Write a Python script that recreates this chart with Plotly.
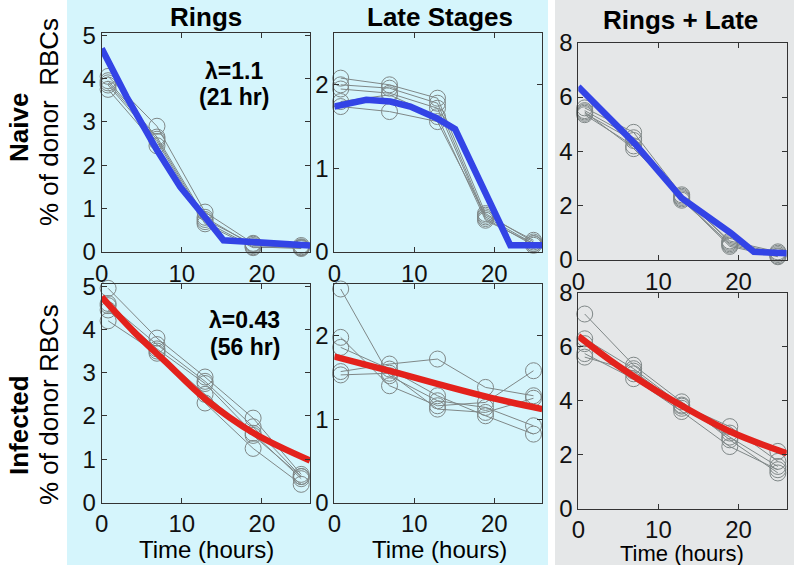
import plotly.graph_objects as go

W, H = 796, 565

# ---------------- data ----------------
times = [0.8, 6.9, 12.9, 18.9, 24.9]

naive_rings = [
    [4.05, 2.90, 0.92, 0.20, 0.15],
    [3.95, 2.65, 0.80, 0.15, 0.10],
    [3.85, 2.55, 0.70, 0.12, 0.08],
    [3.75, 2.45, 0.65, 0.10, 0.12],
    [3.90, 2.60, 0.75, 0.18, 0.10],
]
naive_late = [
    [2.08, 2.00, 1.84, 0.46, 0.12],
    [2.00, 1.96, 1.78, 0.42, 0.10],
    [1.95, 1.90, 1.72, 0.40, 0.08],
    [1.80, 1.88, 1.62, 0.38, 0.10],
    [1.74, 1.68, 1.56, 0.44, 0.14],
]
naive_total = [
    [5.60, 4.70, 2.40, 0.65, 0.25],
    [5.50, 4.50, 2.30, 0.55, 0.15],
    [5.40, 4.40, 2.25, 0.50, 0.12],
    [5.35, 4.20, 2.20, 0.60, 0.20],
    [5.45, 4.10, 2.35, 0.70, 0.30],
]
inf_rings = [
    [4.95, 3.80, 2.90, 1.95, 0.65],
    [4.60, 3.65, 2.80, 1.75, 0.60],
    [4.55, 3.55, 2.75, 1.60, 0.55],
    [4.45, 3.50, 2.50, 1.55, 0.60],
    [4.20, 3.45, 2.30, 1.25, 0.42],
]
inf_late = [
    [2.56, 1.52, 1.22, 1.14, 0.92],
    [1.98, 1.40, 1.16, 1.20, 1.58],
    [1.86, 1.60, 1.28, 1.04, 0.82],
    [1.57, 1.66, 1.72, 1.38, 1.28],
    [1.53, 1.55, 1.12, 1.08, 1.25],
]
inf_total = [
    [7.22, 5.32, 3.96, 2.55, 1.32],
    [6.30, 5.19, 3.84, 3.04, 1.75],
    [6.12, 5.00, 3.72, 2.80, 2.12],
    [5.75, 4.82, 3.60, 2.30, 1.44],
    [5.62, 5.10, 3.80, 2.65, 1.56],
]

fit_naive_rings_t = [0, 3.1, 6.9, 9.8, 12.9, 15.2, 26]
fit_naive_rings_v = [4.69, 3.58, 2.35, 1.50, 0.80, 0.27, 0.15]
fit_naive_late_t = [0, 2, 4, 7, 9.5, 12.8, 15.1, 22, 26]
fit_naive_late_v = [1.74, 1.79, 1.82, 1.80, 1.74, 1.60, 1.47, 0.08, 0.08]
fit_naive_total_t = [0, 3.5, 7, 12.9, 19, 21.9, 26]
fit_naive_total_v = [6.38, 5.35, 4.30, 2.28, 1.00, 0.30, 0.25]

fit_inf_t = [0, 4, 8, 13, 19, 26]
fit_inf_rings_v = [4.75, 3.95, 3.25, 2.38, 1.60, 0.97]
fit_inf_late_v = [1.75, 1.65, 1.55, 1.42, 1.27, 1.12]
fit_inf_total_v = [6.40, 5.50, 4.70, 3.80, 2.85, 2.05]

col_titles = ["Rings", "Late Stages", "Rings + Late"]
row_titles = ["Naive", "Infected"]
x_ticks = [0, 10, 20]
y_ticks_rings = [0, 1, 2, 3, 4, 5]
y_ticks_late = [0, 1, 2]
y_ticks_total = [0, 2, 4, 6, 8]

# ---------------- style ----------------
CYAN = "#d5f5fc"
GRAY_BG = "#e5e7e8"
BLUE = "#3344e6"
RED = "#e3221c"
DOT = "#7f8787"
FONT = "Liberation Sans, Arial, Helvetica, sans-serif"

# panel boxes in pixels: (left, right, top, bottom)
boxes = [
    (101.7, 310.0, 33.0, 252.0),
    (334.3, 542.3, 33.0, 252.0),
    (578.3, 786.7, 42.7, 260.0),
    (101.7, 310.0, 284.0, 502.5),
    (334.3, 542.3, 284.0, 502.5),
    (578.3, 786.7, 293.0, 508.5),
]
yranges = [[0, 5.05], [0, 2.62], [0, 8], [0, 5.05], [0, 2.62], [0, 8]]
yticks = [y_ticks_rings, y_ticks_late, y_ticks_total] * 2

panels = [
    (naive_rings, fit_naive_rings_t, fit_naive_rings_v, BLUE, "linear"),
    (naive_late, fit_naive_late_t, fit_naive_late_v, BLUE, "linear"),
    (naive_total, fit_naive_total_t, fit_naive_total_v, BLUE, "linear"),
    (inf_rings, fit_inf_t, fit_inf_rings_v, RED, "spline"),
    (inf_late, fit_inf_t, fit_inf_late_v, RED, "spline"),
    (inf_total, fit_inf_t, fit_inf_total_v, RED, "spline"),
]

fig = go.Figure()
layout = dict(
    template="none",
    width=W, height=H, autosize=False,
    margin=dict(l=0, r=0, t=0, b=0, pad=0, autoexpand=False),
    paper_bgcolor="white",
    plot_bgcolor="rgba(0,0,0,0)",
    showlegend=False,
    hovermode=False,
    font=dict(family=FONT, color="black"),
)

for i, (box, (reps, ft, fv, fc, shape)) in enumerate(zip(boxes, panels)):
    n = i + 1
    xa = "x" if n == 1 else f"x{n}"
    ya = "y" if n == 1 else f"y{n}"
    l, r, t, b = box
    layout["xaxis" if n == 1 else f"xaxis{n}"] = dict(
        domain=[l / W, r / W], anchor=ya, range=[0, 26], automargin=False,
        tickvals=x_ticks, ticks="inside", ticklen=5, tickcolor="#333",
        showline=True, linecolor="#333", linewidth=1, mirror="allticks",
        showgrid=False, zeroline=False,
        tickfont=dict(size=24, family=FONT, color="#111"),
    )
    layout["yaxis" if n == 1 else f"yaxis{n}"] = dict(
        domain=[1 - b / H, 1 - t / H], anchor=xa, range=yranges[i], automargin=False,
        tickvals=yticks[i], ticks="inside", ticklen=5, tickcolor="#333",
        showline=True, linecolor="#333", linewidth=1, mirror="allticks",
        showgrid=False, zeroline=False,
        tickfont=dict(size=24, family=FONT, color="#111"),
    )
    for rep in reps:
        fig.add_trace(go.Scatter(
            x=times, y=rep, xaxis=xa, yaxis=ya, mode="lines+markers",
            line=dict(color=DOT, width=1),
            marker=dict(symbol="circle-open", size=16, color=DOT, line=dict(width=1)),
            hoverinfo="skip", cliponaxis=False,
        ))
    fig.add_trace(go.Scatter(
        x=ft, y=fv, xaxis=xa, yaxis=ya, mode="lines",
        line=dict(color=fc, width=6.5, shape=shape), hoverinfo="skip",
    ))

shapes = [
    dict(type="rect", xref="paper", yref="paper", x0=67 / W, x1=548 / W, y0=0, y1=1,
         fillcolor=CYAN, line=dict(width=0), layer="below"),
    dict(type="rect", xref="paper", yref="paper", x0=555 / W, x1=794 / W, y0=0, y1=1,
         fillcolor=GRAY_BG, line=dict(width=0), layer="below"),
]
layout["shapes"] = shapes


def ann(text, px, py, size, bold=False, angle=0):
    return dict(
        text=f"<b>{text}</b>" if bold else text,
        x=px / W, y=1 - py / H, xref="paper", yref="paper",
        xanchor="center", yanchor="middle", showarrow=False, textangle=angle,
        font=dict(size=size, family=FONT, color="black"), borderpad=0,
    )


annotations = [
    ann(col_titles[0], 206, 17, 26, bold=True),
    ann(col_titles[1], 440, 17, 26, bold=True),
    ann(col_titles[2], 680, 20, 26, bold=True),
    ann(row_titles[0], 19, 128, 26, bold=True, angle=-90),
    ann("% of donor  RBCs", 49, 122, 26, angle=-90),
    ann(row_titles[1], 19, 425, 26, bold=True, angle=-90),
    ann("% of donor RBCs", 49, 405, 26, angle=-90),
    ann("Time (hours)", 206, 549, 24),
    ann("Time (hours)", 440, 549, 24),
    ann("Time (hours)", 682, 553, 22),
    ann("λ=1.1", 234, 71, 23, bold=True),
    ann("(21 hr)", 234, 97, 23, bold=True),
    ann("λ=0.43", 245, 320, 23, bold=True),
    ann("(56 hr)", 245, 347, 23, bold=True),
]
layout["annotations"] = annotations

fig.update_layout(**layout)
fig.write_html(
    "out.html",
    config={"displayModeBar": False, "staticPlot": True},
    post_script="document.body.style.margin='0px';document.body.style.overflow='hidden';",
)
